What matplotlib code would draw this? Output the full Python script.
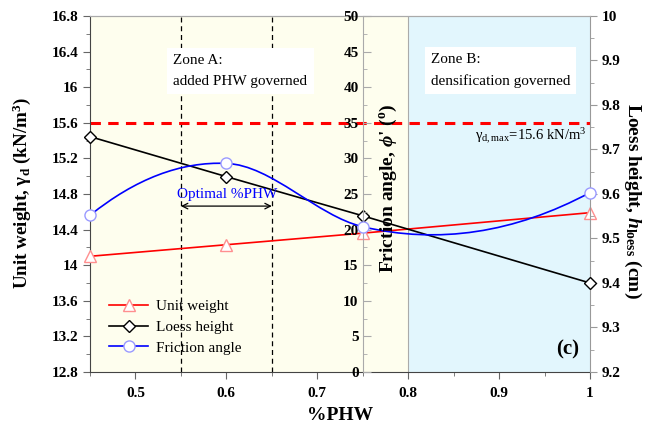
import numpy as np
import matplotlib
matplotlib.use("Agg")
import matplotlib.pyplot as plt
from matplotlib.ticker import MultipleLocator, FuncFormatter
from matplotlib.lines import Line2D
from matplotlib.path import Path
from matplotlib.patches import PathPatch

plt.rcParams['font.family'] = ['Liberation Serif', 'DejaVu Serif']
plt.rcParams['mathtext.fontset'] = 'custom'
plt.rcParams['mathtext.rm'] = 'Liberation Serif'
plt.rcParams['mathtext.it'] = 'Liberation Serif:italic:bold'
plt.rcParams['mathtext.bf'] = 'Liberation Serif:bold'

# data
phw = [0.45, 0.60, 0.75, 1.00]
unit_weight = [14.10, 14.23, 14.36, 14.59]
loess_height = [9.729, 9.639, 9.551, 9.400]
friction_angle = [22.0, 29.3, 20.4, 25.2]
gamma_dmax = 15.6
optimal_range = [0.55, 0.65]
zone_split = 0.80

fig = plt.figure(figsize=(6.46, 4.32), dpi=100)
ax = fig.add_axes([0.1393, 0.1389, 0.7740, 0.8241])
ax_r = ax.twinx()
ax_m = ax.twinx()

# backgrounds
ax.axvspan(0.45, zone_split, color='#FEFEEE', zorder=0, lw=0)
ax.axvspan(zone_split, 1.0, color='#E2F6FD', zorder=0, lw=0)
ax.axvline(zone_split, color='#AAAAAA', lw=0.8, zorder=0.5)

for xv in optimal_range:
    ax.axvline(xv, color='black', lw=0.9, ls=(0, (4, 3)), zorder=1)

ax.axhline(gamma_dmax, color='#FF0000', lw=2.2, ls=(0, (3.4, 2.4)), zorder=2)

# unit weight
ax.plot(phw, unit_weight, color='red', lw=1.2, marker='^', ms=8,
        mfc='white', mec='#FF8F8F', zorder=3, clip_on=False)
ax.set_xlim(0.45, 1.0)
ax.set_ylim(12.8, 16.8)
ax.yaxis.set_major_locator(MultipleLocator(0.4))
ax.yaxis.set_minor_locator(MultipleLocator(0.2))
ax.yaxis.set_major_formatter(FuncFormatter(lambda v, p: '%g' % round(v, 2)))
ax.xaxis.set_major_locator(MultipleLocator(0.1))
ax.xaxis.set_minor_locator(MultipleLocator(0.05))
ax.xaxis.set_major_formatter(FuncFormatter(lambda v, p: '%g' % round(v, 2)))

# loess height
ax_r.plot(phw, loess_height, color='black', lw=1.2, marker='D', ms=6,
          mfc='white', mec='black', zorder=3, clip_on=False)
ax_r.set_ylim(9.2, 10.0)
ax_r.yaxis.set_major_locator(MultipleLocator(0.1))
ax_r.yaxis.set_minor_locator(MultipleLocator(0.05))
ax_r.yaxis.set_major_formatter(FuncFormatter(lambda v, p: '%g' % round(v, 2)))

# friction angle: smooth (Hermite/Bezier) line through the points
xp = np.asarray(phw, float)
yp = np.asarray(friction_angle, float)
h = np.diff(xp)
d = np.diff(yp) / h
s = np.zeros_like(xp)
for i in range(1, len(xp) - 1):
    s[i] = (h[i] * d[i - 1] + h[i - 1] * d[i]) / (h[i - 1] + h[i])
s[0] = 2 * d[0] - s[1]
s[-1] = 2 * d[-1] - s[-2]
verts = [(xp[0], yp[0])]
codes = [Path.MOVETO]
for i in range(len(xp) - 1):
    verts += [(xp[i] + h[i] / 3, yp[i] + h[i] * s[i] / 3),
              (xp[i + 1] - h[i] / 3, yp[i + 1] - h[i] * s[i + 1] / 3),
              (xp[i + 1], yp[i + 1])]
    codes += [Path.CURVE4] * 3
ax_m.add_patch(PathPatch(Path(verts, codes), fc='none', ec='blue', lw=1.2,
                         transform=ax_m.transData, zorder=3))
ax_m.plot(phw, friction_angle, ls='none', marker='o', ms=8,
          mfc='white', mec='#9A9AFF', zorder=4, clip_on=False)
ax_m.set_ylim(0, 50)
ax_m.yaxis.set_major_locator(MultipleLocator(5))
ax_m.yaxis.set_minor_locator(MultipleLocator(2.5))
ax_m.yaxis.tick_left()
ax_m.spines['left'].set_position(('data', 0.75))
ax_m.spines['left'].set_visible(True)
ax_m.spines['left'].set_color('#AAAAAA')
ax_m.spines['right'].set_visible(False)
ax_m.spines['top'].set_visible(False)
ax_m.spines['bottom'].set_visible(False)
ax_m.tick_params(axis='y', which='major', direction='in', length=6, color='#AAAAAA',
                 labelsize=11, pad=3)
ax_m.tick_params(axis='y', which='minor', direction='in', length=3, color='#AAAAAA')

# spines / ticks styling
for a in (ax, ax_r):
    a.spines['top'].set_color('#AAAAAA')
ax.spines['left'].set_color('#444444')
ax.spines['bottom'].set_color('#444444')
ax.spines['right'].set_visible(False)
ax_r.spines['left'].set_visible(False)
ax_r.spines['bottom'].set_visible(False)
ax_r.spines['right'].set_color('#999999')
ax.tick_params(axis='both', which='major', direction='out', length=5, labelsize=11, color='#666666')
ax.tick_params(axis='both', which='minor', direction='out', length=3, color='#666666')
ax.tick_params(axis='x', which='major', pad=6)
ax_r.tick_params(axis='y', which='major', direction='out', length=5, labelsize=11, color='#999999')
ax_r.tick_params(axis='y', which='minor', direction='out', length=3, color='#999999')

for a in (ax, ax_r, ax_m):
    for lab in a.get_xticklabels() + a.get_yticklabels():
        lab.set_fontweight('bold')

# labels
ax.set_xlabel('%PHW', fontsize=14, fontweight='bold', labelpad=5)
fig.text(0.034, 1 - 193 / 432, r'Unit weight, γ$_{\mathbf{d}}$ (kN/m$^{\mathbf{3}}$)',
         rotation=90, fontsize=13.7, fontweight='bold', ha='center', va='center')
fig.text(388 / 646, 1 - 188 / 432, r"Friction angle, $\phi$' ($^{\mathbf{o}}$)",
         rotation=90, fontsize=14, fontweight='bold', ha='center', va='center')
fig.text(633 / 646, 1 - 201 / 432, r'Loess height, $h_{\mathbf{loess}}$ (cm)',
         rotation=270, fontsize=14, fontweight='bold', ha='center', va='center')

# annotations
ax_m.text(0.5418, 42.3, 'Zone A:\nadded PHW governed', fontsize=11, ha='left', va='center',
          linespacing=1.75,
          bbox=dict(boxstyle='square,pad=0.4', fc='white', ec='none'), zorder=5)
ax_m.text(0.8249, 42.3, 'Zone B:\ndensification governed', fontsize=11, ha='left', va='center',
          linespacing=1.75,
          bbox=dict(boxstyle='square,pad=0.4', fc='white', ec='none'), zorder=5)
ax_m.text(0.9967, 33.0, r'γ$_{\mathrm{d,max}}$=15.6 kN/m$^{3}$', fontsize=10.5,
          ha='right', va='center', zorder=5)
ax_m.text(0.6013, 24.9, 'Optimal %PHW', fontsize=11, color='blue', ha='center', va='center', zorder=5)
ax_m.annotate('', xy=(optimal_range[0], 23.3), xytext=(optimal_range[1], 23.3),
              arrowprops=dict(arrowstyle='<->', color='black', lw=0.9, mutation_scale=10,
                              shrinkA=0, shrinkB=0),
              zorder=5)
ax_m.text(0.9758, 3.1, '(c)', fontsize=15, fontweight='bold', ha='center', va='center', zorder=5)

# legend
handles = [
    Line2D([], [], color='red', lw=1.2, marker='^', ms=8, mfc='white', mec='#FF8F8F'),
    Line2D([], [], color='black', lw=1.2, marker='D', ms=6, mfc='white', mec='black'),
    Line2D([], [], color='blue', lw=1.2, marker='o', ms=8, mfc='white', mec='#9A9AFF'),
]
ax_m.legend(handles, ['Unit weight', 'Loess height', 'Friction angle'],
            loc='upper left', bbox_to_anchor=(0.01, 0.2416), frameon=False,
            fontsize=11, handlelength=2.6, handletextpad=0.5, labelspacing=0.45)

fig.savefig('out.png', dpi=100)
